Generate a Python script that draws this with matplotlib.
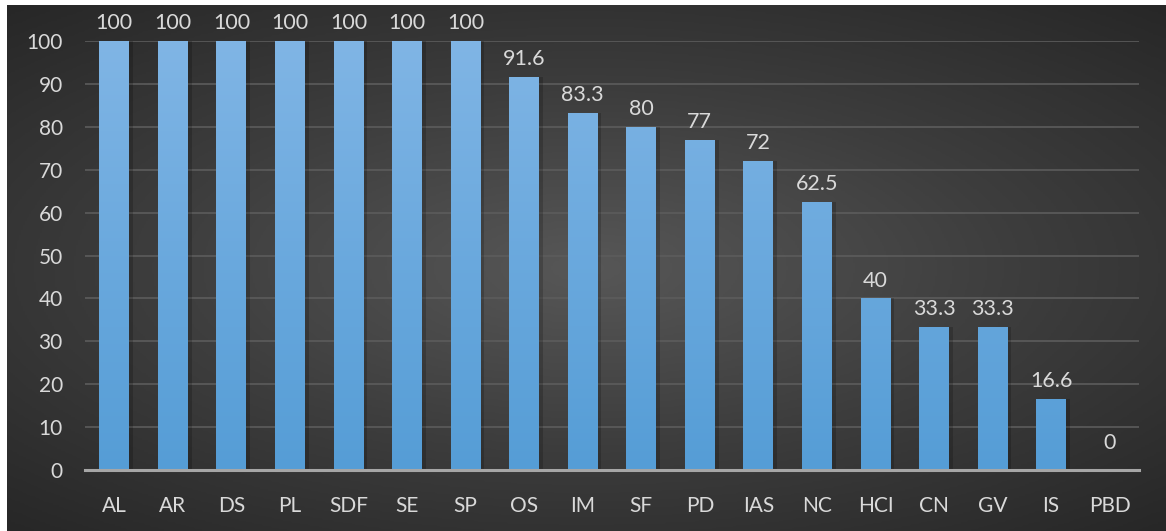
import numpy as np
import matplotlib.pyplot as plt
from matplotlib.colors import LinearSegmentedColormap

categories = ["AL", "AR", "DS", "PL", "SDF", "SE", "SP", "OS", "IM", "SF",
              "PD", "IAS", "NC", "HCI", "CN", "GV", "IS", "PBD"]
values = [100, 100, 100, 100, 100, 100, 100, 91.6, 83.3, 80,
          77, 72, 62.5, 40, 33.3, 33.3, 16.6, 0]
yticks = [0, 10, 20, 30, 40, 50, 60, 70, 80, 90, 100]

plt.rcParams['font.family'] = ['Lato', 'DejaVu Sans']
text_color = "#d9d9d9"

fig = plt.figure(figsize=(11.66, 5.31), dpi=100, facecolor="white")

# dark radial background
bg = fig.add_axes([7 / 1166, 0, 1 - 7 / 1166, 1 - 5 / 531])
bg.set_axis_off()
yy, xx = np.mgrid[-1:1:300j, -1:1:600j]
r = np.sqrt((xx * 0.9) ** 2 + (yy * 1.0) ** 2)
bg_cmap = LinearSegmentedColormap.from_list("bg", ["#575757", "#3d3d3d", "#272727"])
bg.imshow(np.clip(r / 1.35, 0, 1), cmap=bg_cmap, vmin=0, vmax=1, aspect="auto",
          extent=[0, 1, 0, 1])

ax = fig.add_axes([85 / 1166, 1 - 470 / 531, (1139 - 85) / 1166, (470 - 41) / 531])
ax.patch.set_alpha(0)
x = np.arange(len(categories))

# soft shadow
ax.bar(x + 0.06, values, width=0.52, color="black", alpha=0.18, zorder=2)
bars = ax.bar(x, values, width=0.51, color="#6aaae0", zorder=3)

bar_cmap = LinearSegmentedColormap.from_list("bar", ["#559dd6", "#80b5e5"])
grad = np.linspace(0, 1, 256).reshape(-1, 1)
for bar in bars:
    h = bar.get_height()
    if h <= 0:
        continue
    bx = bar.get_x()
    w = bar.get_width()
    im = ax.imshow(grad, cmap=bar_cmap, origin="lower", aspect="auto",
                   extent=[bx, bx + w, 0, 100], zorder=4)
    im.set_clip_path(bar)
    ax.text(bx + w / 2, h + 1.8, f"{h:g}", ha="center", va="bottom",
            color=text_color, fontsize=15.5, zorder=5)
for bar in bars:
    if bar.get_height() <= 0:
        ax.text(bar.get_x() + bar.get_width() / 2, 4, "0", ha="center", va="bottom",
                color=text_color, fontsize=15.5, zorder=5)

ax.set_xlim(-0.5, len(categories) - 0.5)
ax.set_ylim(0, 100)
ax.set_yticks(yticks)
ax.set_xticks(x)
ax.set_xticklabels(categories)
ax.tick_params(axis="both", length=0, colors=text_color, labelsize=15)
ax.tick_params(axis="x", pad=19)
ax.tick_params(axis="y", pad=16)
ax.grid(axis="y", color="#5c5c5c", linewidth=1.2, zorder=1)
for s in ["top", "right", "left"]:
    ax.spines[s].set_visible(False)
ax.spines["bottom"].set_color("#a6a6a6")
ax.spines["bottom"].set_linewidth(2.2)
ax.spines["bottom"].set_zorder(6)

fig.savefig("out.png", dpi=100, facecolor="white")
